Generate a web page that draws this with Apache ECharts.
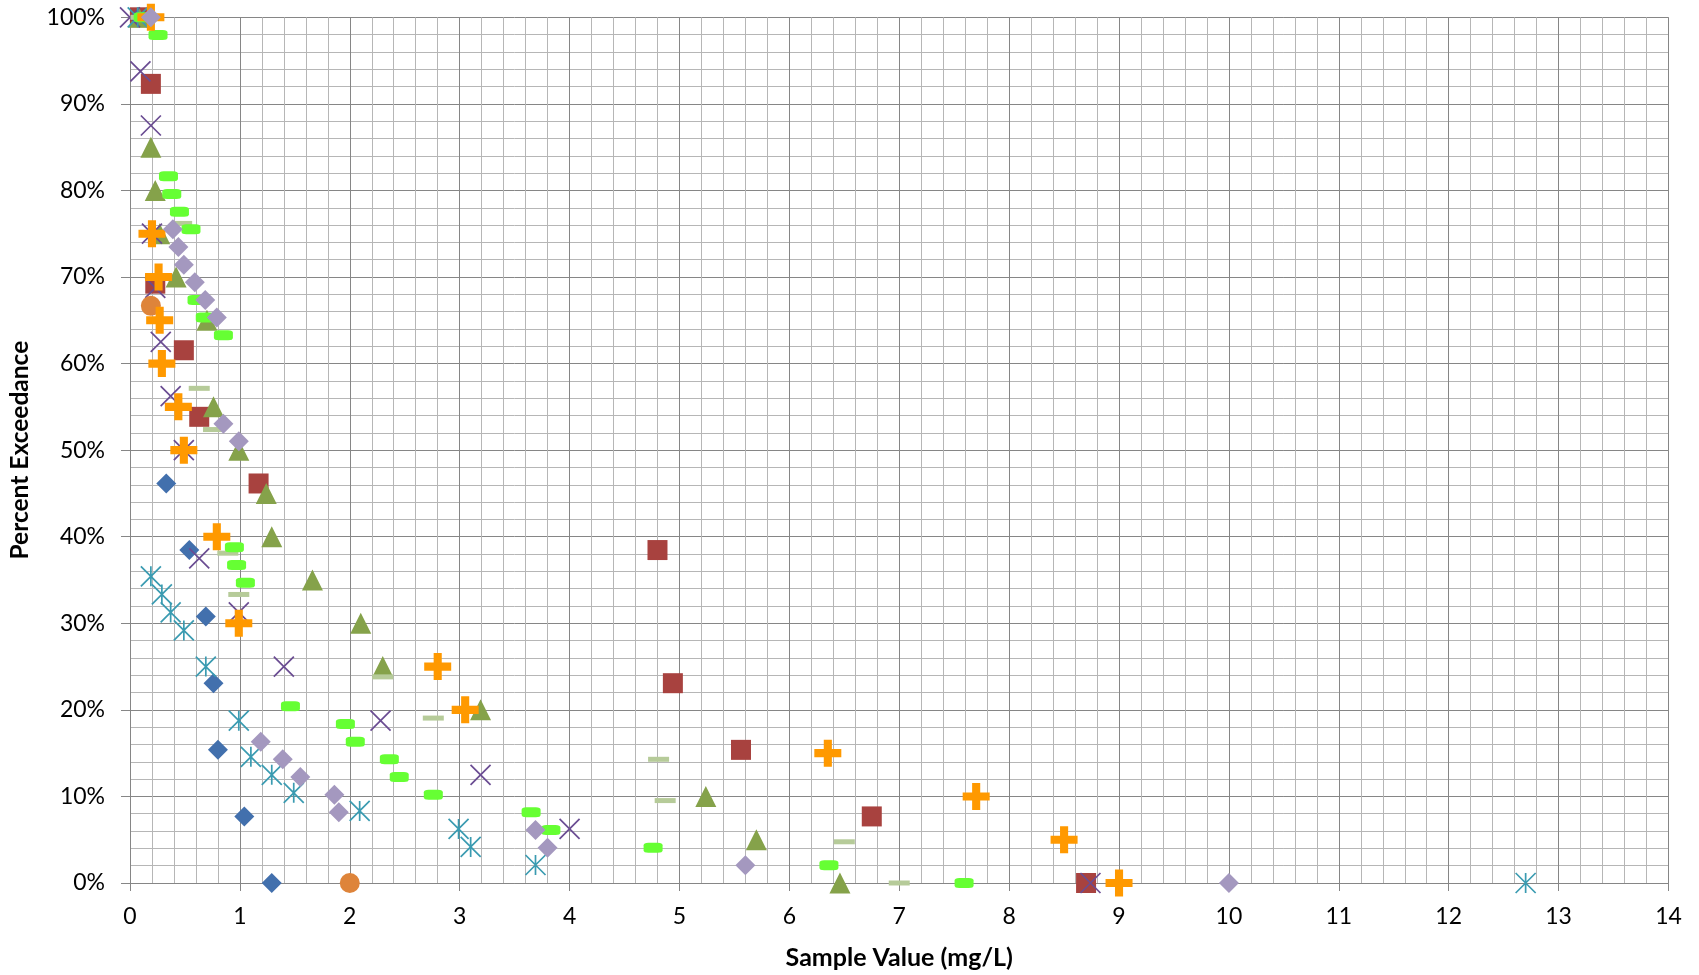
<!DOCTYPE html>
<html>
<head>
<meta charset="utf-8">
<script src="https://cdn.jsdelivr.net/npm/echarts@6/dist/echarts.min.js"></script>
<style>
html,body{margin:0;padding:0;background:#fff;}
#chart{width:1699px;height:975px;}
</style>
</head>
<body>
<div id="chart"></div>
<script>
// ---- Data (x = sample value mg/L, y = percent exceedance %) ----
const blueDiamondX = [0.08, 0.33, 0.54, 0.69, 0.76, 0.80, 1.04, 1.29];
const blueDiamondY = [100, 46.15, 38.46, 30.77, 23.08, 15.38, 7.69, 0];

const redSquareX = [0.09, 0.19, 0.23, 0.49, 0.63, 1.17, 4.80, 4.94, 5.56, 6.75, 8.70];
const redSquareY = [100, 92.31, 69.23, 61.54, 53.85, 46.15, 38.46, 23.08, 15.38, 7.69, 0];

const oliveTriangleX = [0.08, 0.19, 0.23, 0.27, 0.42, 0.70, 0.76, 0.99, 1.24, 1.29, 1.66, 2.10, 2.30, 3.19, 5.24, 5.70, 6.46];
const oliveTriangleY = [100, 85, 80, 75, 70, 65, 55, 50, 45, 40, 35, 30, 25, 20, 10, 5, 0];

const purpleCrossX = [0.0, 0.095, 0.19, 0.20, 0.23, 0.28, 0.37, 0.49, 0.63, 0.99, 1.40, 2.28, 3.19, 4.00, 8.74];
const purpleCrossY = [100, 93.75, 87.5, 75, 68.75, 62.5, 56.25, 50, 37.5, 31.25, 25, 18.75, 12.5, 6.25, 0];

const tealStarX = [0.07, 0.19, 0.29, 0.37, 0.49, 0.69, 0.99, 1.10, 1.29, 1.49, 2.09, 2.99, 3.10, 3.69, 12.70];
const tealStarY = [100, 35.42, 33.33, 31.25, 29.17, 25, 18.75, 14.58, 12.5, 10.42, 8.33, 6.25, 4.17, 2.08, 0];

const orangeCircleX = [0.19, 2.0];
const orangeCircleY = [66.67, 0];

const sageDashX = [0.10, 0.47, 0.63, 0.76, 0.89, 0.99, 2.30, 2.76, 4.81, 4.87, 6.50, 7.0];
const sageDashY = [100, 76.19, 57.14, 52.38, 38.10, 33.33, 23.81, 19.05, 14.29, 9.52, 4.76, 0];

const greenBarX = [0.12, 0.255, 0.35, 0.38, 0.45, 0.555, 0.61, 0.685, 0.85, 0.95, 0.97, 1.05, 1.46, 1.96, 2.05, 2.36, 2.45, 2.76, 3.65, 3.83, 4.76, 6.36, 7.59];
const greenBarY = [100, 97.96, 81.63, 79.59, 77.55, 75.51, 67.35, 65.31, 63.27, 38.78, 36.73, 34.69, 20.41, 18.37, 16.33, 14.29, 12.24, 10.20, 8.16, 6.12, 4.08, 2.04, 0];

const orangePlusX = [0.19, 0.20, 0.26, 0.27, 0.29, 0.44, 0.49, 0.79, 0.99, 2.80, 3.05, 6.35, 7.70, 8.50, 9.0];
const orangePlusY = [100, 75, 70, 65, 60, 55, 50, 40, 30, 25, 20, 15, 10, 5, 0];

const lavenderDiamondX = [0.19, 0.39, 0.44, 0.49, 0.59, 0.685, 0.79, 0.85, 0.99, 1.19, 1.39, 1.55, 1.86, 1.90, 3.69, 3.80, 5.60, 10.0];
const lavenderDiamondY = [100, 75.51, 73.47, 71.43, 69.39, 67.35, 65.31, 53.06, 51.02, 16.33, 14.29, 12.24, 10.20, 8.16, 6.12, 4.08, 2.04, 0];

const xTickValues = [0,1,2,3,4,5,6,7,8,9,10,11,12,13,14];
const yTickValues = [0,10,20,30,40,50,60,70,80,90,100];

const xTitle = 'Sample Value (mg/L)';
const yTitle = 'Percent Exceedance';

// ---- Chart ----
function pts(xs, ys){ return xs.map((x,i)=>[x, ys[i]]); }

const CROSS = 'path://M0,0L10,10M10,0L0,10';
const STAR = 'path://M0,0L10,10M10,0L0,10M5,0L5,10';
const PLUS = 'path://M3.5,0H6.5V3.5H10V6.5H6.5V10H3.5V6.5H0V3.5H3.5Z';

function filled(name, data, symbol, size, color){
  return {name, type:'scatter', data, symbol, symbolSize:size,
    itemStyle:{color:color, opacity:1}, emphasis:{disabled:true}};
}
function stroked(name, data, symbol, size, color){
  return {name, type:'scatter', data, symbol, symbolSize:size,
    itemStyle:{color:'rgba(0,0,0,0)', borderColor:color, borderWidth:1.7, opacity:1}, emphasis:{disabled:true}};
}

const chart = echarts.init(document.getElementById('chart'), null, {renderer:'canvas'});
const font = 'Lato';
chart.setOption({
  animation:false,
  backgroundColor:'#ffffff',
  grid:{left:128, right:30.5, top:17.3, bottom:91, containLabel:false},
  xAxis:{
    type:'value', min:0, max:14, interval:1,
    name:xTitle, nameLocation:'middle', nameGap:62,
    nameTextStyle:{fontFamily:font, fontSize:25, fontWeight:'bold', color:'#000'},
    axisLine:{show:true, onZero:false, lineStyle:{color:'#868686', width:1}},
    axisTick:{show:true, inside:false, length:8, lineStyle:{color:'#868686'}},
    axisLabel:{fontFamily:font, fontSize:23, color:'#000', margin:22,
      formatter:v=> xTickValues.includes(v) ? String(v) : ''},
    splitLine:{show:true, lineStyle:{color:'#868686', width:1}},
    minorTick:{show:false, splitNumber:5},
    minorSplitLine:{show:true, lineStyle:{color:'#B6B6B6', width:1}}
  },
  yAxis:{
    type:'value', min:0, max:100, interval:10,
    name:yTitle, nameLocation:'middle', nameGap:97, nameRotate:90,
    nameTextStyle:{fontFamily:font, fontSize:24.5, fontWeight:'bold', color:'#000'},
    axisLine:{show:true, onZero:false, lineStyle:{color:'#868686', width:1}},
    axisTick:{show:true, inside:false, length:9, lineStyle:{color:'#868686'}},
    axisLabel:{fontFamily:font, fontSize:23, color:'#000', margin:25,
      formatter:v=> yTickValues.includes(v) ? v + '%' : ''},
    splitLine:{show:true, lineStyle:{color:'#868686', width:1}},
    minorTick:{show:false, splitNumber:5},
    minorSplitLine:{show:true, lineStyle:{color:'#B6B6B6', width:1}}
  },
  series:[
    filled('S1', pts(blueDiamondX, blueDiamondY), 'diamond', 20, '#4270AD'),
    filled('S2', pts(redSquareX, redSquareY), 'rect', 20, '#A8423F'),
    filled('S3', pts(oliveTriangleX, oliveTriangleY), 'triangle', 21, '#85A24A'),
    stroked('S4', pts(purpleCrossX, purpleCrossY), CROSS, 20, '#6A4C92'),
    stroked('S5', pts(tealStarX, tealStarY), STAR, 20, '#3A9BB1'),
    filled('S6', pts(orangeCircleX, orangeCircleY), 'circle', 20, '#DE843A'),
    filled('S7', pts(sageDashX, sageDashY), 'rect', [21,5], '#B6CB99'),
    filled('S8', pts(greenBarX, greenBarY), 'roundRect', [19,10], '#66FF33'),
    filled('S9', pts(orangePlusX, orangePlusY), PLUS, 27, '#FF9900'),
    filled('S10', pts(lavenderDiamondX, lavenderDiamondY), 'diamond', 20, '#A498BF')
  ]
});
</script>
</body>
</html>
